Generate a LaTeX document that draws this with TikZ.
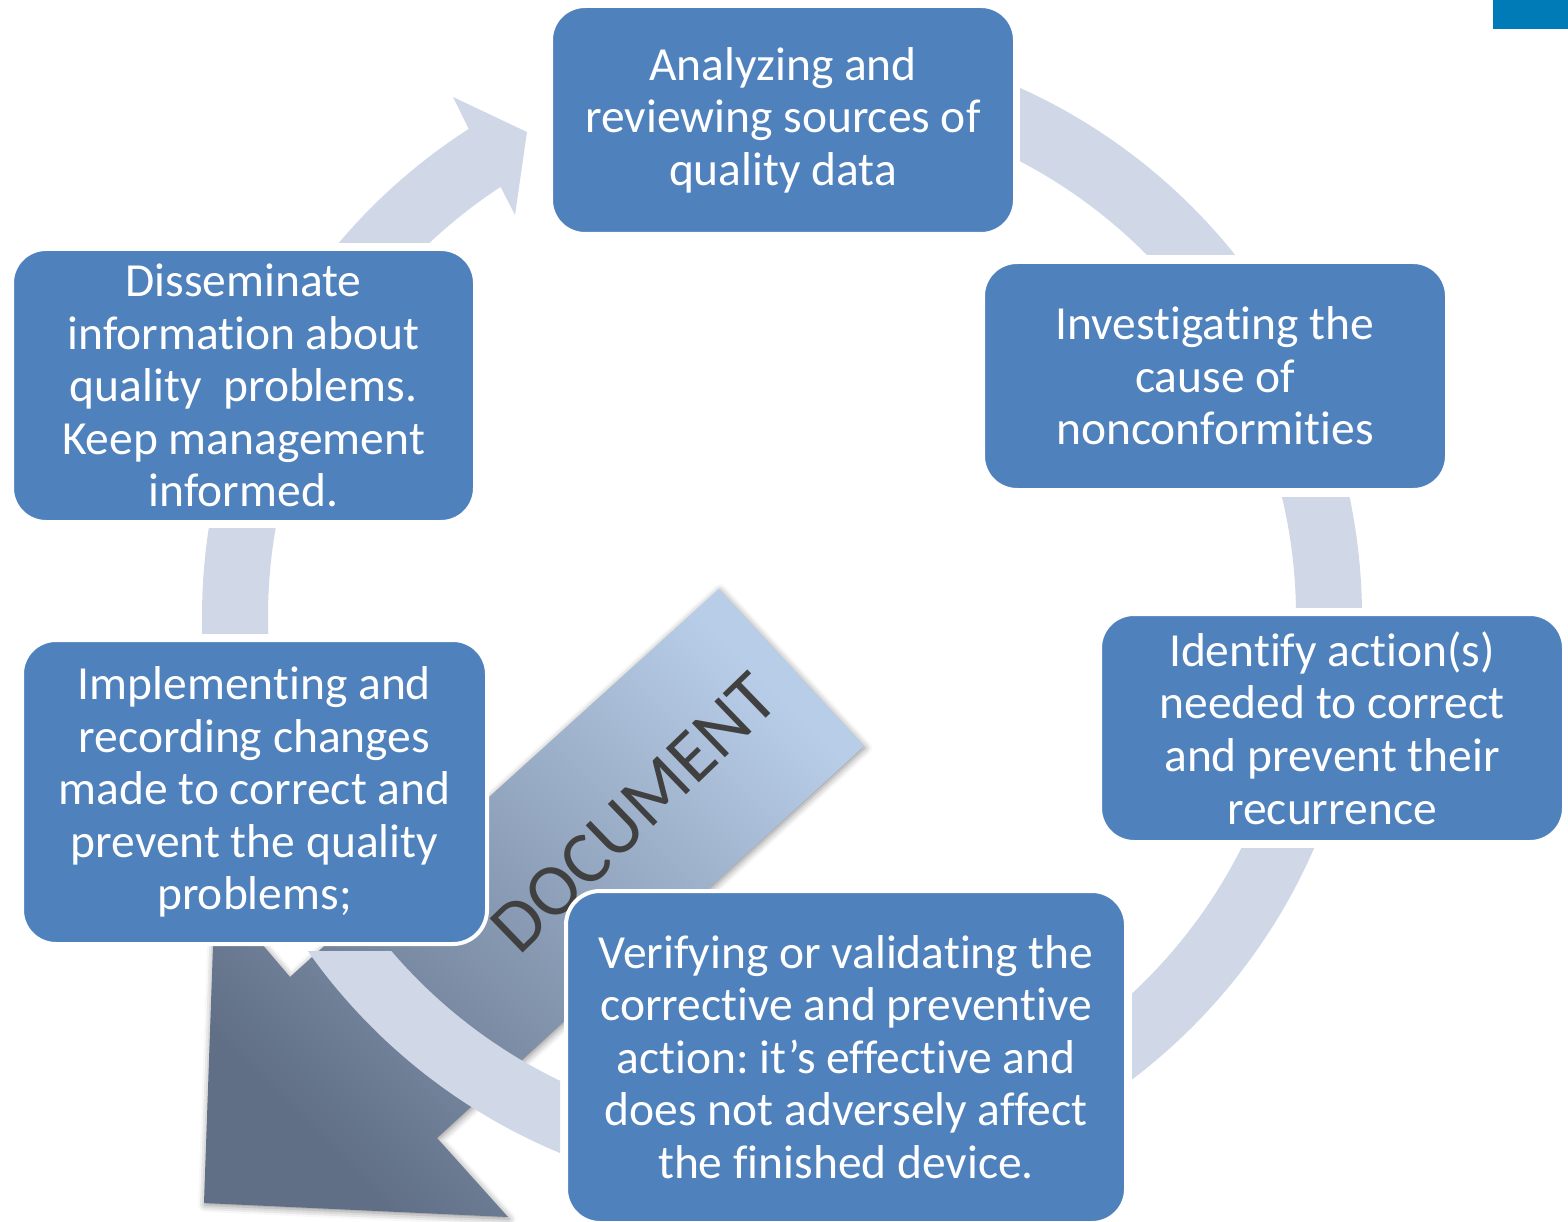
\documentclass[tikz,border=0pt]{standalone}
\usepackage{fontspec}
\setmainfont{Carlito}[Ligatures={NoCommon}]
\frenchspacing
\usetikzlibrary{calc,shadows.blur}
\definecolor{boxblue}{HTML}{4F81BD}
\definecolor{ringc}{HTML}{D0D8E8}
\definecolor{docdark}{HTML}{606F86}
\definecolor{doclight}{HTML}{B8CDE8}
\definecolor{doctext}{HTML}{404040}
\definecolor{cornerblue}{HTML}{007BB8}
\tikzset{
  stepbox/.style={rectangle, rounded corners=34pt, fill=boxblue, draw=white,
    line width=4pt, text=white, align=center,
    font=\fontsize{47.5}{52.6}\selectfont, inner sep=0pt},
  ringseg/.style={fill=ringc, even odd rule},
}
\begin{document}
\begin{tikzpicture}[x=1pt,y=1pt]
\useasboundingbox (0,0) rectangle (1568,-1222);
\coordinate (C) at (782,-617);
% corner mark
\fill[cornerblue] (1493,0) rectangle (1568,-29);
% document arrow
\path[top color=doclight, bottom color=docdark, shading angle=-45,
  blur shadow={shadow xshift=1pt, shadow yshift=-2pt, shadow blur radius=7pt, shadow opacity=45}]
  (719,-589) -- (864,-746) -- (437,-1138) -- (508,-1217) -- (204,-1203)
  -- (215,-889) -- (290,-977) -- cycle;
\node[rotate=44, text=doctext, font=\fontsize{74}{86}\selectfont, inner sep=0pt] (doc) at (634,-813) {DOCUMENT};
% ring segments
\begin{scope}
  \clip (1020,10) rectangle (1600,-255);
  \fill[ringseg] (C) circle[radius=580pt] (C) circle[radius=514pt];
\end{scope}
\begin{scope}
  \clip (1100,-497) rectangle (1600,-607);
  \fill[ringseg] (C) circle[radius=580pt] (C) circle[radius=514pt];
\end{scope}
\begin{scope}
  \clip (1132,-848) rectangle (1600,-1300);
  \fill[ringseg] (C) circle[radius=580pt] (C) circle[radius=514pt];
\end{scope}
\begin{scope}
  \clip (-10,-951) rectangle (560,-1300);
  \fill[ringseg] (C) circle[radius=580pt] (C) circle[radius=514pt];
\end{scope}
\begin{scope}
  \clip (-10,-528) rectangle (450,-633);
  \fill[ringseg] (C) circle[radius=580pt] (C) circle[radius=514pt];
\end{scope}
\begin{scope}
  \clip (-10,-243) rectangle (782,10);
  \coordinate (o1) at ($(C)+(150:580)$);
  \coordinate (i1) at ($(C)+(123.2:514)$);
  \fill[ringc] (o1) arc[start angle=150, end angle=122.7, radius=580pt]
    -- (453,-97) -- (527,-132) -- (515,-215) -- (i1)
    arc[start angle=123.2, end angle=150, radius=514pt] -- cycle;
\end{scope}
% boxes
\node[stepbox, minimum width=464pt, minimum height=228pt] (analyze) at (783,-120)
  {Analyzing and\\reviewing sources of\\quality data};
\node[stepbox, minimum width=464pt, minimum height=228pt] (invest) at (1215,-376)
  {Investigating the\\cause of\\nonconformities};
\node[stepbox, minimum width=464pt, minimum height=228pt] (identify) at (1332,-728)
  {Identify action(s)\\needed to correct\\and prevent their\\recurrence};
\node[stepbox, minimum width=560pt, minimum height=332pt] (verify) at (846,-1057)
  {Verifying or validating the\\corrective and preventive\\action: it’s effective and\\does not adversely affect\\the finished device.};
\node[stepbox, minimum width=465pt, minimum height=304pt] (implement) at (254.5,-792)
  {Implementing and\\recording changes\\made to correct and\\prevent the quality\\problems;};
\node[stepbox, minimum width=463pt, minimum height=273pt] (dissem) at (243.5,-385.5)
  {Disseminate\\information about\\quality~ problems.\\Keep management\\informed.};
\end{tikzpicture}
\end{document}
